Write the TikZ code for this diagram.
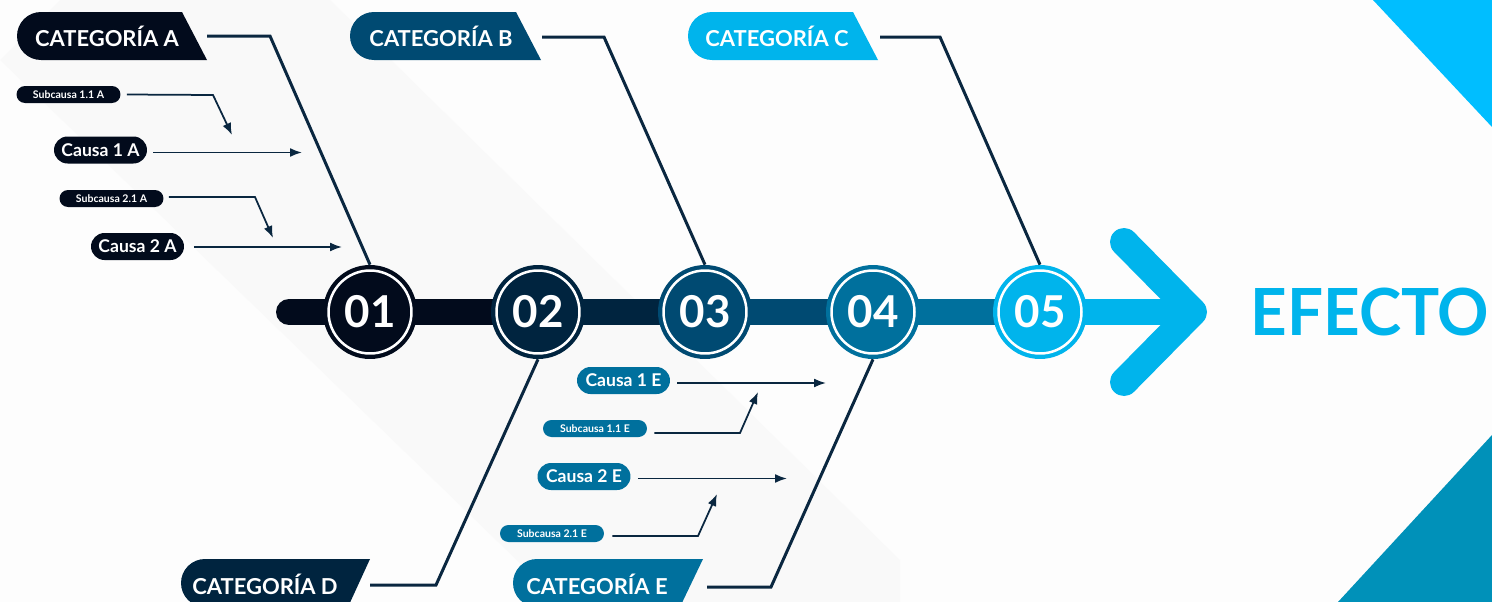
\documentclass[tikz,border=0pt]{standalone}
\usepackage{fontspec}
\setmainfont{Lato}
\usepackage{tikz}
\usetikzlibrary{arrows.meta}

\definecolor{cOne}{HTML}{020B1C}
\definecolor{cTwo}{HTML}{00243F}
\definecolor{cThree}{HTML}{004A72}
\definecolor{cFour}{HTML}{00709D}
\definecolor{cFive}{HTML}{00B4EC}
\definecolor{lineblue}{HTML}{0A2740}
\definecolor{triTop}{HTML}{00BEFF}
\definecolor{triBot}{HTML}{0091B9}
\definecolor{bgbase}{HTML}{FDFDFD}
\definecolor{bgband}{HTML}{F9F9F9}

\tikzset{
  numcirc/.style={circle, minimum size=1.88cm, inner sep=0, text=white,
    font=\fontsize{25}{27}\selectfont\bfseries},
  ring/.style={white, line width=0.05cm},
  catlabel/.style={text=white, font=\fontsize{12.5}{14}\selectfont\bfseries},
  causebox/.style={minimum width=1.86cm, minimum height=0.54cm, inner sep=0,
    rounded corners=0.27cm, text=white, font=\fontsize{10}{12}\selectfont\bfseries},
  subbox/.style={minimum width=2.08cm, minimum height=0.34cm, inner sep=0,
    rounded corners=0.17cm, text=white, font=\fontsize{6}{7}\selectfont\bfseries},
  catline/.style={lineblue, line width=0.06cm},
  causearrow/.style={lineblue, line width=0.035cm, -{Latex[length=0.24cm,width=0.18cm]}},
  spine/.style={line width=0.52cm}
}

\begin{document}
\begin{tikzpicture}[x=0.02cm,y=-0.02cm]
\useasboundingbox (0,0) rectangle (1492,602);
% background
\fill[bgbase] (0,0) rectangle (1492,602);
\fill[bgband] (0,60) -- (60,0) -- (330,0) -- (900,560) -- (900,602) -- (560,602) -- cycle;
% corner triangles
\fill[triTop] (1373,0) -- (1492,0) -- (1492,127) -- cycle;
\fill[triBot] (1338,602) -- (1492,435) -- (1492,602) -- cycle;
%
% spine
\draw[spine, cOne, line cap=round] (289,312) -- (538,312);
\draw[spine, cTwo] (538,312) -- (705,312);
\draw[spine, cThree] (705,312) -- (873,312);
\draw[spine, cFour] (873,312) -- (1040,312);
\draw[spine, cFive] (1040,312) -- (1180,312);
\draw[cFive, line width=0.56cm, line cap=round, line join=round] (1124,242) -- (1193,312) -- (1124,382);
\node[text=cFive, font=\fontsize{37}{40}\selectfont\bfseries, xscale=0.98] (efecto) at (1370,312) {EFECTO};
%
% numbered circles
\node[numcirc, fill=cOne] (c1) at (370,312) {01};
\draw[ring] (c1) circle[radius=0.83cm];
\node[numcirc, fill=cTwo] (c2) at (538,312) {02};
\draw[ring] (c2) circle[radius=0.83cm];
\node[numcirc, fill=cThree] (c3) at (705,312) {03};
\draw[ring] (c3) circle[radius=0.83cm];
\node[numcirc, fill=cFour] (c4) at (873,312) {04};
\draw[ring] (c4) circle[radius=0.83cm];
\node[numcirc, fill=cFive] (c5) at (1040,312) {05};
\draw[ring] (c5) circle[radius=0.83cm];
%
% top categories
\fill[cOne] (41,36) circle[radius=0.48cm];
\fill[cOne] (41,12) -- (182,12) -- (207,60) -- (41,60) -- cycle;
\node[catlabel] (catA) at (107,36) {CATEGORÍA A};
\fill[cThree] (374,36) circle[radius=0.48cm];
\fill[cThree] (374,12) -- (516,12) -- (541,60) -- (374,60) -- cycle;
\node[catlabel] (catB) at (441,36) {CATEGORÍA B};
\fill[cFive] (712,36) circle[radius=0.48cm];
\fill[cFive] (712,12) -- (853,12) -- (878,60) -- (712,60) -- cycle;
\node[catlabel] (catC) at (777,36) {CATEGORÍA C};
%
% bottom categories
\fill[cTwo] (205,583) circle[radius=0.48cm];
\fill[cTwo] (205,559) -- (370,559) -- (348,607) -- (205,607) -- cycle;
\node[catlabel] (catD) at (265,584) {CATEGORÍA D};
\fill[cFour] (537,583) circle[radius=0.48cm];
\fill[cFour] (537,559) -- (703,559) -- (680,607) -- (537,607) -- cycle;
\node[catlabel] (catE) at (597,584) {CATEGORÍA E};
%
% category bones
\coordinate (sA) at (207,36);
\coordinate (kA) at (270,36);
\draw[catline] (sA) -- (kA) -- (c1.north);
\coordinate (sB) at (542,37);
\coordinate (kB) at (604,37);
\draw[catline] (sB) -- (kB) -- (c3.north);
\coordinate (sC) at (880,37);
\coordinate (kC) at (940,37);
\draw[catline] (sC) -- (kC) -- (c5.north);
\coordinate (sD) at (370,585);
\coordinate (kD) at (436,585);
\draw[catline] (sD) -- (kD) -- (c2.south);
\coordinate (sE) at (707,587);
\coordinate (kE) at (771,587);
\draw[catline] (sE) -- (kE) -- (c4.south);
%
% causes of A
\node[subbox, fill=cOne] (sub11A) at (68.5,94.5) {Subcausa 1.1 A};
\node[causebox, fill=cOne] (cau1A) at (100.5,150) {Causa 1 A};
\node[subbox, fill=cOne] (sub21A) at (111.5,198.5) {Subcausa 2.1 A};
\node[causebox, fill=cOne] (cau2A) at (137.5,246.5) {Causa 2 A};
\coordinate (t1A) at (302,152.5);
\coordinate (t2A) at (342,247);
\draw[causearrow] ([xshift=0.12cm]cau1A.east |- t1A) -- (t1A);
\draw[causearrow] ([xshift=0.2cm]cau2A.east |- t2A) -- (t2A);
\coordinate (b11A) at (213,95);
\coordinate (t11A) at (232,135);
\draw[causearrow] ([xshift=0.12cm]sub11A.east) -- (b11A) -- (t11A);
\coordinate (b21A) at (255,197);
\coordinate (t21A) at (273,238);
\draw[causearrow] ([xshift=0.1cm]sub21A.east |- b21A) -- (b21A) -- (t21A);
%
% causes of E
\node[causebox, fill=cFour] (cau1E) at (623.5,380.5) {Causa 1 E};
\node[subbox, fill=cFour] (sub11E) at (595,428.5) {Subcausa 1.1 E};
\node[causebox, fill=cFour] (cau2E) at (584,476.5) {Causa 2 E};
\node[subbox, fill=cFour] (sub21E) at (552,533.5) {Subcausa 2.1 E};
\coordinate (t1E) at (826,383);
\coordinate (t2E) at (787,478.5);
\draw[causearrow] ([xshift=0.14cm]cau1E.east |- t1E) -- (t1E);
\draw[causearrow] ([xshift=0.14cm]cau2E.east |- t2E) -- (t2E);
\coordinate (b11E) at (740,433);
\coordinate (t11E) at (758,392);
\draw[causearrow] ([xshift=0.14cm]sub11E.east |- b11E) -- (b11E) -- (t11E);
\coordinate (b21E) at (698,536);
\coordinate (t21E) at (717,494);
\draw[causearrow] ([xshift=0.16cm]sub21E.east |- b21E) -- (b21E) -- (t21E);
\end{tikzpicture}
\end{document}
